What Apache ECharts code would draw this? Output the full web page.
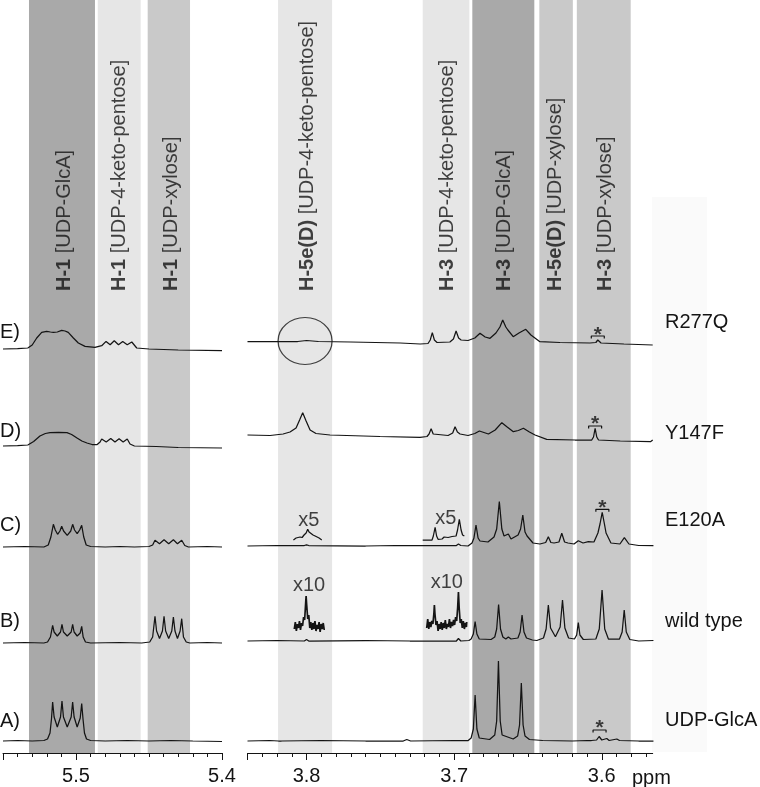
<!DOCTYPE html>
<html><head><meta charset="utf-8">
<script src="https://cdn.jsdelivr.net/npm/echarts@6/dist/echarts.min.js"></script>
<style>html,body{margin:0;padding:0;background:#fff}#c{width:760px;height:787px}</style>
</head><body><div id="c"></div>
<script>
// ---------------- DATA ----------------
// trace labels / sample names, bottom (A) to top (E)
const traceLabels = ['A)', 'B)', 'C)', 'D)', 'E)'];
const sampleNames = ['UDP-GlcA', 'wild type', 'E120A', 'Y147F', 'R277Q'];

// shaded assignment bands [ppm from, ppm to, shade]
const bandsLeft = [[5.5322, 5.4870, 'dark'], [5.4851, 5.4557, 'light'], [5.4509, 5.4219, 'mid']];
const bandsRight = [[3.8193, 3.7827, 'light'], [3.7213, 3.6897, 'light'], [3.6877, 3.6457, 'dark'], [3.6423, 3.6196, 'mid'], [3.6169, 3.5804, 'mid']];

// band captions [bold part, rest, ppm of caption]
const captionsLeft = [['H-1', ' [UDP-GlcA]', 5.5082], ['H-1', ' [UDP-4-keto-pentose]', 5.4705], ['H-1', ' [UDP-xylose]', 5.4348]];
const captionsRight = [['H-5e(D)', ' [UDP-4-keto-pentose]', 3.7993], ['H-3', ' [UDP-4-keto-pentose]', 3.7045], ['H-3', ' [UDP-GlcA]', 3.6662], ['H-5e(D)', ' [UDP-xylose]', 3.6312], ['H-3', ' [UDP-xylose]', 3.5973]];

// axis tick labels
const ticksLeft = [5.4, 5.5];
const ticksRight = [3.6, 3.7, 3.8];

// spectra: [ppm, intensity above the trace baseline]
const leftA = [[5.550,0],[5.540,0.5],[5.530,0],[5.522,0.5],[5.5195,2],[5.5178,8],[5.5168,22],[5.5160,39],[5.5150,24],[5.5128,14],[5.5106,24],[5.5096,40],[5.5086,24],[5.5060,14],[5.5033,24],[5.5023,39],[5.5013,24],[5.4992,14],[5.4971,23],[5.4961,37.5],[5.4952,22],[5.4942,8],[5.4928,2],[5.490,0.5],[5.480,0],[5.465,0.5],[5.450,0],[5.435,0.5],[5.420,0],[5.400,-0.5]];
const leftB = [[5.550,0],[5.535,0.5],[5.522,0],[5.5195,1],[5.5175,6],[5.5160,17.7],[5.5150,11],[5.5128,7],[5.5106,11],[5.5096,18.7],[5.5086,11],[5.5060,7],[5.5033,11],[5.5023,18.7],[5.5013,11],[5.4992,7],[5.4971,10],[5.4961,16.7],[5.4951,6],[5.4935,1],[5.490,0],[5.470,0.5],[5.455,0],[5.4495,1],[5.4475,6],[5.4459,26.7],[5.4448,12],[5.4428,4.5],[5.4408,12],[5.4397,26.7],[5.4386,12],[5.4365,4.5],[5.4344,12],[5.4333,26],[5.4322,12],[5.4305,4.5],[5.4287,12],[5.4276,24.3],[5.4264,6],[5.4245,1],[5.422,0],[5.410,0.5],[5.400,0]];
const leftC = [[5.550,0],[5.535,0.5],[5.522,0],[5.519,2],[5.5172,10],[5.5155,22.7],[5.5142,17],[5.5126,12.7],[5.5110,16],[5.5098,20.7],[5.5085,16],[5.5060,11.7],[5.5036,16],[5.5023,22.7],[5.5010,17],[5.4992,13.3],[5.4975,17],[5.4961,21.7],[5.4947,10],[5.4930,2],[5.490,0.5],[5.480,0],[5.470,0.5],[5.460,0],[5.450,0.5],[5.4475,2],[5.4459,6.7],[5.4428,3.3],[5.4397,7.3],[5.4365,3.3],[5.4333,7.3],[5.4305,3.3],[5.4276,6.7],[5.4255,1.5],[5.423,0],[5.410,0.5],[5.400,0]];
const leftD = [[5.550,0],[5.540,0.3],[5.533,1],[5.529,4.5],[5.5247,10],[5.521,12.5],[5.5178,13.3],[5.512,13.6],[5.5062,13.3],[5.503,11.5],[5.4993,8],[5.496,5],[5.4925,3],[5.489,1.5],[5.4855,1.5],[5.4835,4],[5.4824,7],[5.4793,4],[5.4762,7.5],[5.4733,4],[5.4705,7.3],[5.4677,4],[5.4649,7],[5.4630,2],[5.460,0],[5.445,-0.5],[5.430,-1.5],[5.400,-2]];
const leftE = [[5.550,0],[5.540,0.3],[5.533,1],[5.5300,4],[5.5269,11],[5.5235,16.6],[5.5201,17.6],[5.5175,17],[5.5155,16.6],[5.5128,17],[5.5098,18.6],[5.5075,18],[5.5053,16.6],[5.5018,11],[5.4984,6],[5.4938,2.6],[5.487,1.6],[5.4824,3.3],[5.4794,7.6],[5.4766,4.3],[5.4738,8.3],[5.4709,4.3],[5.468,7.6],[5.4649,4.3],[5.4618,7],[5.4584,1],[5.450,0],[5.430,-1],[5.400,-1.7]];

const rightA = [[3.840,0],[3.825,0.5],[3.819,0],[3.818,1],[3.817,0],[3.790,0.5],[3.760,0],[3.7345,0],[3.7321,1.5],[3.7295,0],[3.700,0.5],[3.6905,0.5],[3.6885,3],[3.6870,12],[3.6858,46],[3.6846,12],[3.6830,3],[3.676,1.5],[3.6725,6],[3.6712,20],[3.6700,80],[3.6688,20],[3.6675,6],[3.6600,2],[3.6570,5],[3.6557,16],[3.6545,58],[3.6533,16],[3.6520,5],[3.649,1.5],[3.640,0.5],[3.620,0],[3.610,0.5],[3.6091,2],[3.607,0.5],[3.6035,1],[3.6018,4.5],[3.600,1],[3.5966,2.5],[3.5950,0.5],[3.5898,2],[3.588,0.5],[3.575,0],[3.565,0]];
const rightB = [[3.840,0],[3.820,0.5],[3.8015,0],[3.8000,1.5],[3.7985,0],[3.760,0.5],[3.730,0],[3.7145,0],[3.7134,2],[3.7120,0],[3.6985,0],[3.6971,2.5],[3.6955,0],[3.690,0.5],[3.6885,2],[3.6870,7],[3.6858,19.3],[3.6846,7],[3.6830,2],[3.675,1.5],[3.6725,4],[3.6712,12],[3.6699,36.5],[3.6686,12],[3.6670,4],[3.6650,2],[3.6633,4],[3.6615,2],[3.6568,3],[3.6553,9],[3.6540,26],[3.6527,9],[3.6510,3],[3.6470,1],[3.6440,0.5],[3.6395,3],[3.6377,12],[3.6362,36],[3.6347,13],[3.6314,4.3],[3.6282,14],[3.6266,41],[3.6250,13],[3.6225,3],[3.6185,2],[3.6170,6],[3.6159,18.3],[3.6148,6],[3.6125,1.5],[3.6040,2],[3.6017,12],[3.5998,51],[3.5980,12],[3.5955,2],[3.5880,2],[3.5862,9],[3.5848,31],[3.5834,9],[3.5810,1.5],[3.575,0],[3.565,0.5]];
const rightC = [[3.840,0],[3.820,0.5],[3.8015,0.5],[3.8000,1.2],[3.7985,0.5],[3.760,0],[3.740,0.5],[3.7145,0.5],[3.7134,1.5],[3.7120,0.5],[3.6985,0.5],[3.6971,2],[3.6955,0.5],[3.6906,0],[3.6879,3],[3.6866,8],[3.6852,21],[3.6838,8],[3.6825,5],[3.6771,4],[3.6730,9],[3.6712,17],[3.6694,44.5],[3.6677,17],[3.6662,10],[3.6649,8],[3.6633,12],[3.6615,7],[3.6567,11],[3.6550,17],[3.6535,31],[3.6520,14],[3.6506,10],[3.6466,3],[3.6419,2],[3.6380,3.5],[3.6362,9.3],[3.6345,3.5],[3.6323,3],[3.6290,4],[3.6271,12.7],[3.6252,4],[3.6229,3],[3.6188,2],[3.6159,5.3],[3.6127,3],[3.6091,4.3],[3.6053,4],[3.6026,13],[3.6012,22],[3.5997,33.7],[3.5982,22],[3.5971,13],[3.5938,3],[3.5877,2],[3.5847,8.3],[3.5816,2],[3.575,0.5],[3.565,0.3]];
const rightD = [[3.840,2],[3.8247,1.5],[3.8159,3],[3.8112,5],[3.8071,9],[3.8047,17],[3.8026,24.3],[3.8003,16],[3.7976,7],[3.7936,3.5],[3.7841,2],[3.7502,0.5],[3.7231,-0.3],[3.7184,0.5],[3.7170,3],[3.7156,8.3],[3.7142,3],[3.7129,1.5],[3.7041,1.5],[3.7010,4],[3.6994,10.3],[3.6978,5],[3.6960,3],[3.6906,1.5],[3.6860,3.5],[3.6829,6],[3.6768,3],[3.6722,7],[3.6677,14.3],[3.6643,10.3],[3.6599,5.3],[3.6565,6.5],[3.6531,8.7],[3.6490,5],[3.6452,2],[3.6373,-2.3],[3.6181,-3],[3.6068,-3],[3.6056,0],[3.6045,8.7],[3.6034,0],[3.6022,-3],[3.5875,-4],[3.5670,-4.7],[3.5655,-3]];
const rightE = [[3.840,1.3],[3.820,1.5],[3.806,1.5],[3.800,2.5],[3.792,1.5],[3.770,1],[3.7366,0],[3.723,-1],[3.7177,-0.5],[3.7162,3],[3.7148,10.3],[3.7134,3],[3.7116,0.5],[3.7029,1],[3.7005,4],[3.6987,12],[3.6970,5],[3.6953,3],[3.6906,2.5],[3.6860,5],[3.6825,9.7],[3.6790,6],[3.6757,4.7],[3.6717,10],[3.6690,16],[3.6671,23],[3.6650,16],[3.6636,13],[3.6600,6.3],[3.6561,10],[3.6515,13.7],[3.6480,8],[3.6419,1.3],[3.6283,0.5],[3.6080,0],[3.6040,0.5],[3.6027,3],[3.6005,0],[3.585,-1],[3.5655,-2]];

// expanded insets (x5 on trace C, x10 on trace B), intensity above that trace's baseline
const insetC1 = [[3.8089,6],[3.8071,8],[3.8058,7],[3.8044,9],[3.8030,8.5],[3.8017,11],[3.8003,13],[3.7992,16.7],[3.7983,14],[3.7970,15],[3.7956,11],[3.7942,10],[3.7929,9.5],[3.7915,8],[3.7897,6]];
const insetC2 = [[3.7213,6],[3.7150,6],[3.7141,10],[3.7129,18.7],[3.7119,10],[3.7109,6.7],[3.7096,8],[3.7082,7],[3.7068,9],[3.7055,7.5],[3.7041,8.5],[3.7028,8],[3.7014,9.5],[3.7005,9.3],[3.6987,10],[3.6977,16],[3.6965,26.7],[3.6953,16],[3.6943,11],[3.6931,10]];
const insetB1 = [[3.8083,12],[3.8076,19],[3.8069,10],[3.8062,17],[3.8055,13],[3.8048,20],[3.8041,11],[3.8034,18],[3.8027,15],[3.8020,24],[3.8013,21],[3.8006,38],[3.8003,45],[3.7999,36],[3.7992,22],[3.7985,26],[3.7978,13],[3.7971,19],[3.7964,11],[3.7957,18],[3.7950,12],[3.7943,20],[3.7936,10],[3.7929,16],[3.7922,12],[3.7915,19],[3.7908,9],[3.7901,17],[3.7894,12],[3.7887,18],[3.7880,11]];
const insetB2 = [[3.7186,13],[3.7179,22],[3.7172,12],[3.7165,19],[3.7158,14],[3.7151,20],[3.7144,17],[3.7137,28],[3.7134,36],[3.7130,27],[3.7123,16],[3.7116,20],[3.7109,10],[3.7102,17],[3.7095,12],[3.7088,19],[3.7081,11],[3.7074,18],[3.7067,13],[3.7060,21],[3.7053,12],[3.7046,17],[3.7039,14],[3.7032,22],[3.7025,13],[3.7018,19],[3.7011,15],[3.7004,21],[3.6997,16],[3.6990,24],[3.6983,20],[3.6976,34],[3.6971,49],[3.6966,33],[3.6959,18],[3.6952,22],[3.6945,13],[3.6938,20],[3.6931,12],[3.6924,18],[3.6917,14],[3.6915,19]];
// inset captions [text, trace index, ppm, height above baseline]
const insetNotes = [['x5', 2, 3.7985, 26], ['x5', 2, 3.7057, 27.7], ['x10', 1, 3.7983, 56], ['x10', 1, 3.7050, 58.3]];

// starred impurity signal [trace index, ppm, bracket height, star height]
const stars = [[0, 3.6015, 11, 16.7], [2, 3.5996, 36.7, 41.7], [3, 3.6045, 11, 17], [4, 3.6027, 7, 12]];
// circled (missing) signal on trace E
const circled = [[4, 3.801, 2]];

// ---------------- LAYOUT / STYLE ----------------
const offsetsLeft = [12, 110, 206, 307, 404];
const offsetsRight = [12, 112, 207, 316, 410];
const leftLabelY = [721.7, 621.7, 525, 431.7, 332];
const rightLabelY = [720, 621.7, 520, 433.3, 322.7];
const FONT = '"Liberation Sans", Arial, Helvetica, sans-serif';
const INK = '#141414';
const SHADE = { dark: '#a9a9a9', light: '#e6e6e6', mid: '#c9c9c9' };

function range(a, b, step) { const out = []; const n = Math.round((b - a) / step); for (let i = 0; i <= n; i++) out.push(+(a + i * step).toFixed(4)); return out; }
function shift(arr, off) { return arr.map(p => [p[0], p[1] + off]); }

const chart = echarts.init(document.getElementById('c'), null, { renderer: 'canvas' });

const grid = [
  { left: 3, width: 219, top: 0, height: 753 },
  { left: 247.5, width: 405.2, top: 0, height: 753 }
];
function xPair(gi, min, max, minorTicks, majorTicks, labels) {
  return [
    { type: 'value', gridIndex: gi, min, max, inverse: true,
      axisLine: { show: true, onZero: false, lineStyle: { color: INK, width: 1 } },
      axisTick: { show: true, customValues: minorTicks, length: 4, lineStyle: { color: INK, width: 1 } },
      axisLabel: { show: false }, splitLine: { show: false } },
    { type: 'value', gridIndex: gi, min, max, inverse: true, position: 'bottom',
      axisLine: { show: false, onZero: false },
      axisTick: { show: true, customValues: majorTicks, length: 7, lineStyle: { color: INK, width: 1 } },
      axisLabel: { show: true, customValues: labels, formatter: v => v.toFixed(1), fontFamily: FONT, fontSize: 20, color: INK, margin: 13 },
      splitLine: { show: false } }
  ];
}
const xAxis = [
  ...xPair(0, 5.40, 5.55, range(5.40, 5.55, 0.01), [5.40, 5.50, 5.55], ticksLeft),
  ...xPair(1, 3.5655, 3.84, range(3.57, 3.84, 0.01), [3.60, 3.70, 3.80, 3.84], ticksRight)
];
const yAxis = [
  { type: 'value', gridIndex: 0, min: 0, max: 753, show: false },
  { type: 'value', gridIndex: 1, min: 0, max: 753, show: false }
];

const series = [];
function bandSeries(xi, yi, bands) {
  return { type: 'line', xAxisIndex: xi, yAxisIndex: yi, data: [], silent: true, z: 1,
    markArea: { silent: true, z: 1, label: { show: false },
      data: bands.map(b => [{ xAxis: b[0], itemStyle: { color: SHADE[b[2]], opacity: 1 } }, { xAxis: b[1] }]) } };
}
series.push(bandSeries(0, 0, bandsLeft));
series.push(bandSeries(2, 1, bandsRight));

function lineSeries(xi, yi, data, width) {
  return { type: 'line', xAxisIndex: xi, yAxisIndex: yi, data, showSymbol: false, symbol: 'none',
    lineStyle: { color: INK, width: width || 1.25 }, z: 3, silent: true, animation: false };
}
[leftA, leftB, leftC, leftD, leftE].forEach((tr, i) => series.push(lineSeries(0, 0, shift(tr, offsetsLeft[i]))));
[rightA, rightB, rightC, rightD, rightE].forEach((tr, i) => series.push(lineSeries(2, 1, shift(tr, offsetsRight[i]))));
series.push(lineSeries(2, 1, shift(insetC1, offsetsRight[2])));
series.push(lineSeries(2, 1, shift(insetC2, offsetsRight[2])));
series.push(lineSeries(2, 1, shift(insetB1, offsetsRight[1]), 1.7));
series.push(lineSeries(2, 1, shift(insetB2, offsetsRight[1]), 1.7));

// brackets and stars
const HW = 0.0044;
stars.forEach(s => {
  const y = offsetsRight[s[0]] + s[2];
  series.push(lineSeries(2, 1, [[s[1] + HW, y - 2.5], [s[1] + HW, y], [s[1] - HW, y], [s[1] - HW, y - 2.5]], 1.2));
});
series.push({ type: 'scatter', xAxisIndex: 2, yAxisIndex: 1, symbolSize: 1, silent: true, z: 5,
  itemStyle: { color: 'rgba(0,0,0,0)' },
  data: stars.map(s => [s[1], offsetsRight[s[0]] + s[3] - 4]),
  label: { show: true, position: 'inside', formatter: '*', fontFamily: FONT, fontSize: 21, fontWeight: 'bold', color: INK, align: 'center', verticalAlign: 'middle' } });

// circle
series.push({ type: 'scatter', xAxisIndex: 2, yAxisIndex: 1, silent: true, z: 5, symbol: 'circle', symbolSize: [54, 47],
  itemStyle: { color: 'rgba(0,0,0,0)', borderColor: INK, borderWidth: 1.2 },
  data: circled.map(c => [c[1], offsetsRight[c[0]] + c[2]]) });

// inset captions
series.push({ type: 'scatter', xAxisIndex: 2, yAxisIndex: 1, symbolSize: 1, silent: true, z: 5,
  itemStyle: { color: 'rgba(0,0,0,0)' },
  data: insetNotes.map(n => ({ value: [n[2], offsetsRight[n[1]] + n[3]], name: n[0] })),
  label: { show: true, position: 'inside', formatter: p => p.name, fontFamily: FONT, fontSize: 20, color: INK, align: 'center', verticalAlign: 'middle' } });

// band captions (rotated)
function captionSeries(xi, yi, caps) {
  return { type: 'scatter', xAxisIndex: xi, yAxisIndex: yi, symbolSize: 1, silent: true, z: 5,
    itemStyle: { color: 'rgba(0,0,0,0)' },
    data: caps.map(c => ({ value: [c[2], 753 - 291], name: c[0] + '|' + c[1] })),
    label: { show: true, position: 'inside', rotate: 90, align: 'left', verticalAlign: 'middle',
      fontFamily: FONT, fontSize: 20, color: INK,
      formatter: p => { const [b, r] = p.name.split('|'); return '{b|' + b + '}' + r; },
      rich: { b: { fontFamily: FONT, fontSize: 20, fontWeight: 'bold', color: INK } } } };
}
series.push(captionSeries(0, 0, captionsLeft));
series.push(captionSeries(2, 1, captionsRight));

const graphic = [
  { type: 'rect', left: 652, top: 197, z: 0, shape: { width: 55, height: 555 }, style: { fill: '#fafafa' }, silent: true }
];
traceLabels.forEach((t, i) => graphic.push({ type: 'text', x: 0, y: leftLabelY[i], z: 10,
  style: { text: t, font: '20px ' + FONT, fill: INK, textAlign: 'left', textVerticalAlign: 'middle' } }));
sampleNames.forEach((t, i) => graphic.push({ type: 'text', x: 665, y: rightLabelY[i], z: 10,
  style: { text: t, font: '20px ' + FONT, fill: INK, textAlign: 'left', textVerticalAlign: 'middle' } }));
graphic.push({ type: 'text', x: 632, y: 778, z: 10, style: { text: 'ppm', font: '20px ' + FONT, fill: INK, textAlign: 'left', textVerticalAlign: 'middle' } });

chart.setOption({ backgroundColor: '#ffffff', animation: false, grid, xAxis, yAxis, series, graphic });
</script>
</body></html>
